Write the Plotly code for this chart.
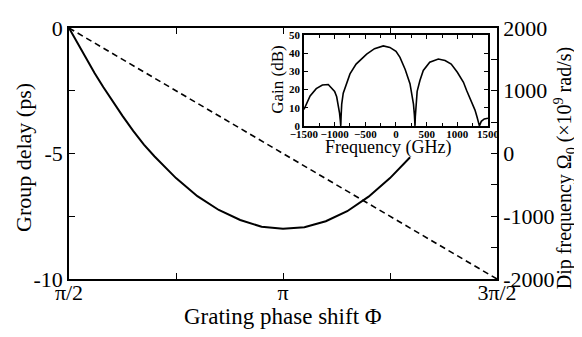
import plotly.graph_objects as go

# ---- main panel data ----
phi_over_pi = [0.5, 0.52, 0.54, 0.56, 0.58, 0.60, 0.625, 0.65, 0.675, 0.70, 0.75,
               0.80, 0.85, 0.90, 0.95, 1.0, 1.05, 1.10, 1.15, 1.20, 1.25, 1.297]
group_delay_ps = [0, -0.62, -1.22, -1.8, -2.35, -2.88, -3.5, -4.1, -4.65, -5.12, -5.98,
                  -6.7, -7.25, -7.65, -7.92, -8.0, -7.94, -7.7, -7.3, -6.72, -5.98, -5.15]

dip_phi_over_pi = [0.5, 1.0, 1.5]
dip_freq = [2000, 0, -2000]

x_tickvals = [0.5, 0.75, 1.0, 1.25, 1.5]
x_ticktext = ["π/2", "", "π", "", "3π/2"]
yl_tickvals = [0, -2.5, -5, -7.5, -10]
yl_ticktext = ["0", "", "-5", "", "-10"]
yr_tickvals = [2000, 1500, 1000, 500, 0, -500, -1000, -1500, -2000]
yr_ticktext = ["2000", "", "1000", "", "0", "", "-1000", "", "-2000"]

# ---- inset data ----
freq_ghz = [-1500, -1450, -1400, -1300, -1200, -1104, -1000, -967, -940, -920, -908, -900,
            -895, -885, -860, -800, -750, -650, -478, -350, -207, -100, 0, 65, 150, 228,
            270, 285, 300, 310,
            315, 325, 345, 390, 445, 550, 690, 800, 900, 1000, 1100, 1150, 1200, 1250,
            1288, 1320, 1345, 1360, 1390, 1440, 1500]
gain_db = [9, 13, 16.5, 20.5, 22.5, 22.8, 19, 16, 11.5, 7, 3, 0,
           5, 12, 18, 24, 28.6, 34, 39.5, 42.5, 44, 43.2, 41, 37.7, 31, 23.2,
           16, 12, 6, 0,
           5, 12, 19, 25, 30.5, 35, 36.8, 36, 34, 29.5, 24, 19.6, 16, 12,
           8.7, 5, 2, 0, 2.5, 3.8, 4.2]

FONT = "Liberation Serif"

fig = go.Figure()
fig.add_trace(go.Scatter(x=phi_over_pi, y=group_delay_ps, mode="lines",
                         line=dict(color="black", width=2), xaxis="x", yaxis="y",
                         showlegend=False))
fig.add_trace(go.Scatter(x=dip_phi_over_pi, y=dip_freq, mode="lines",
                         line=dict(color="black", width=1.6, dash="6px,4px"),
                         xaxis="x", yaxis="y3", showlegend=False))
fig.add_trace(go.Scatter(x=freq_ghz, y=gain_db, mode="lines",
                         line=dict(color="black", width=1.6), xaxis="x2", yaxis="y2",
                         showlegend=False))

axis_common = dict(showgrid=False, zeroline=False, showline=True, linecolor="black",
                   linewidth=1.5, ticks="inside", tickcolor="black", automargin=False,
                   tickangle=0)

def ann(text, x, y, size, angle=0):
    return dict(text=text, xref="paper", yref="paper", x=x, y=y, xanchor="center",
                yanchor="middle", textangle=angle, showarrow=False,
                font=dict(size=size, family=FONT, color="black"))

fig.update_layout(
    width=574, height=329,
    margin=dict(l=61, r=85, t=20, b=58),
    paper_bgcolor="white", plot_bgcolor="white",
    font=dict(family=FONT, color="black"),
    xaxis=dict(**axis_common, domain=[0, 1], range=[0.5, 1.5], tickvals=x_tickvals,
               ticktext=x_ticktext, ticklen=6, mirror="ticks", anchor="y",
               ticklabelstandoff=-7, tickfont=dict(size=22, family=FONT)),
    yaxis=dict(**axis_common, domain=[0, 1], range=[-10, 0], tickvals=yl_tickvals,
               ticktext=yl_ticktext, ticklen=6, anchor="x",
               tickfont=dict(size=22, family=FONT)),
    yaxis3=dict(**axis_common, overlaying="y", side="right", anchor="x",
                range=[-2000, 2000], tickvals=yr_tickvals, ticktext=yr_ticktext,
                ticklen=6, tickfont=dict(size=22, family=FONT)),
    xaxis2=dict(**axis_common, domain=[0.549, 0.979], anchor="y2", range=[-1500, 1500],
                tickvals=[-1500, -1000, -500, 0, 500, 1000, 1500], ticklen=4,
                mirror="ticks", ticklabelstandoff=-3,
                minor=dict(dtick=250, ticks="inside", ticklen=3, tickcolor="black"),
                tickfont=dict(size=11, family=FONT, weight="bold")),
    yaxis2=dict(**axis_common, domain=[0.610, 0.972], anchor="x2", range=[0, 50],
                dtick=10, ticklen=4, mirror="ticks",
                tickfont=dict(size=11, family=FONT, weight="bold")),
    annotations=[
        ann("Group delay (ps)", -0.1075, 0.486, 22, -90),
        ann("Grating phase shift Φ", 0.5, -0.151, 23),
        ann("Dip frequency Ω<sub>0</sub> (×10<sup>9</sup> rad/s)", 1.158, 0.44, 20, -90),
        ann("Gain (dB)", 0.488, 0.793, 17, -90),
        ann("Frequency (GHz)", 0.745, 0.522, 18),
    ],
)

fig.write_html("out.html")
